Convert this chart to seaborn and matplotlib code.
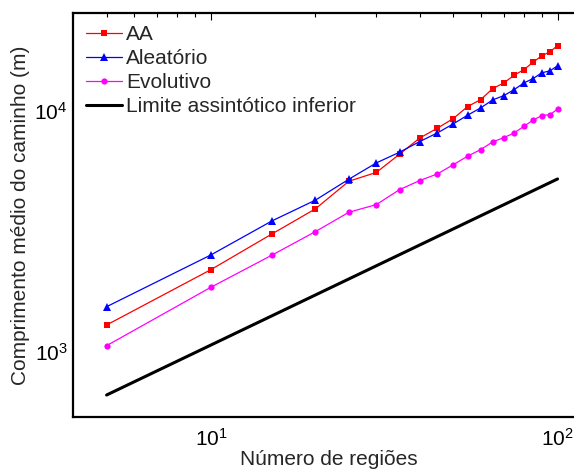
import numpy as np
import pandas as pd
import matplotlib
matplotlib.use("Agg")
import matplotlib.pyplot as plt
import seaborn as sns
from matplotlib.ticker import LogLocator

# ---- data ----
regioes = [5, 10, 15, 20, 25, 30, 35, 40, 45, 50, 55, 60, 65, 70, 75, 80, 85, 90, 95, 100]
aa = [1294, 2196, 3088, 3921, 5109, 5556, 6613, 7713, 8478, 9291,
      10420, 11140, 12375, 13070, 14065, 14835, 15925, 16915, 17570, 18660]
aleatorio = [1541, 2527, 3497, 4262, 5208, 6085, 6740, 7458, 8103, 8833,
             9598, 10290, 11110, 11570, 12260, 13070, 13615, 14380, 14655, 15370]
evolutivo = [1062, 1856, 2522, 3155, 3798, 4086, 4714, 5139, 5477, 5980,
             6486, 6912, 7437, 7747, 8103, 8640, 9150, 9561, 9652, 10160]
limite_x = [5, 100]
limite_y = [663, 5220]

labels = ["AA", "Aleatório", "Evolutivo", "Limite assintótico inferior"]
xlabel = "Número de regiões"
ylabel = "Comprimento médio do caminho (m)"

sns.set_style("white")
plt.rcParams["font.family"] = ["Liberation Sans", "DejaVu Sans"]
plt.rcParams["mathtext.fontset"] = "custom"
plt.rcParams["mathtext.rm"] = "Liberation Sans"
plt.rcParams["mathtext.it"] = "Liberation Sans:italic"
plt.rcParams["mathtext.bf"] = "Liberation Sans:bold"

fig = plt.figure(figsize=(5.74, 4.70), dpi=100)
ax_w_px, ax_h_px = 512.0, 403.4
ax = fig.add_axes([73 / 574, 1 - 416.7 / 470, ax_w_px / 574, ax_h_px / 470])

df_aa = pd.DataFrame({"x": regioes, "y": aa})
df_al = pd.DataFrame({"x": regioes, "y": aleatorio})
df_ev = pd.DataFrame({"x": regioes, "y": evolutivo})
df_li = pd.DataFrame({"x": limite_x, "y": limite_y})

sns.lineplot(data=df_aa, x="x", y="y", ax=ax, color="#ff0000", marker="s",
             markersize=4.5, markeredgewidth=0, linewidth=0.9, label=labels[0])
sns.lineplot(data=df_al, x="x", y="y", ax=ax, color="#0000ff", marker="^",
             markersize=5.5, markeredgewidth=0, linewidth=0.9, label=labels[1])
sns.lineplot(data=df_ev, x="x", y="y", ax=ax, color="#ff00ff", marker="o",
             markersize=4.5, markeredgewidth=0, linewidth=0.9, label=labels[2])
sns.lineplot(data=df_li, x="x", y="y", ax=ax, color="black",
             linewidth=2.2, label=labels[3])

ax.set_xscale("log")
ax.set_yscale("log")
ax.set_xlim(4, 120)
ax.set_ylim(539, 25400)

ax.xaxis.set_major_locator(LogLocator(base=10, numticks=10))
ax.yaxis.set_major_locator(LogLocator(base=10, numticks=10))
ax.xaxis.set_minor_locator(LogLocator(base=10, subs=np.arange(2, 10), numticks=20))
ax.yaxis.set_minor_locator(LogLocator(base=10, subs=np.arange(2, 10), numticks=20))

ax.tick_params(which="both", direction="in", top=True, right=False,
               labelsize=15, width=0.8, colors="black")
ax.tick_params(which="major", length=5)
ax.tick_params(which="minor", length=3)
ax.tick_params(axis="x", pad=8)
ax.tick_params(axis="y", pad=4)

for s in ["left", "bottom", "top"]:
    ax.spines[s].set_visible(True)
    ax.spines[s].set_linewidth(1.6)
    ax.spines[s].set_color("black")
ax.spines["right"].set_visible(False)

ax.set_xlabel(xlabel, fontsize=15, labelpad=0)
ax.set_ylabel(ylabel, fontsize=15, labelpad=3)

leg = ax.legend(loc="upper left", frameon=False, fontsize=15,
                bbox_to_anchor=(13 / ax_w_px, 1 - 11.5 / ax_h_px),
                handlelength=1.73, handletextpad=0.2, labelspacing=0.25,
                borderaxespad=0, borderpad=0)

fig.savefig("out.png", dpi=100)
